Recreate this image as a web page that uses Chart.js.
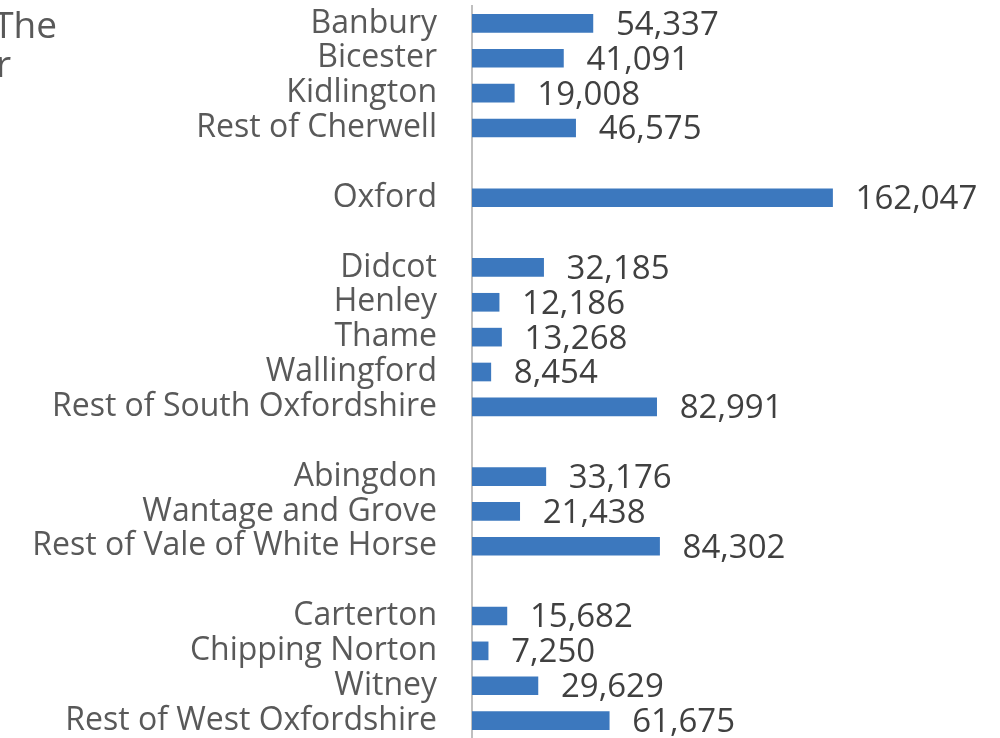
<!DOCTYPE html>
<html>
<head>
<meta charset="utf-8">
<script src="https://cdn.jsdelivr.net/npm/chart.js@4"></script>
<style>
    body { margin: 0; background: #fff; overflow: hidden; }
    #wrap { position: relative; width: 1000px; height: 738px; }
    .frag { position: absolute; font-family: 'Open Sans', sans-serif; font-size: 37px; line-height: 1; color: #595959; white-space: nowrap; }
</style>
</head>
<body>
<div id="wrap">
    <div class="frag" style="right:943px; top:5px;">The</div>
    <div class="frag" style="right:989px; top:44px;">r</div>
    <canvas id="popChart" width="1000" height="738"></canvas>
</div>
<script>
const categories = ['Banbury', 'Bicester', 'Kidlington', 'Rest of Cherwell', '', 'Oxford', '',
    'Didcot', 'Henley', 'Thame', 'Wallingford', 'Rest of South Oxfordshire', '',
    'Abingdon', 'Wantage and Grove', 'Rest of Vale of White Horse', '',
    'Carterton', 'Chipping Norton', 'Witney', 'Rest of West Oxfordshire'];
const population = [54337, 41091, 19008, 46575, null, 162047, null,
    32185, 12186, 13268, 8454, 82991, null,
    33176, 21438, 84302, null,
    15682, 7250, 29629, 61675];

// value labels drawn after each bar
const valueLabels = {
    id: 'valueLabels',
    afterDatasetsDraw(chart) {
        const ctx = chart.ctx;
        const meta = chart.getDatasetMeta(0);
        ctx.save();
        ctx.font = '33px "Open Sans"';
        ctx.fillStyle = '#404040';
        ctx.textBaseline = 'middle';
        ctx.textAlign = 'left';
        meta.data.forEach(function(bar, i) {
            const v = population[i];
            if (v == null) return;
            ctx.fillText(v.toLocaleString('en-US'), bar.x + 23, bar.y + 2);
        });
        ctx.restore();
    }
};

document.addEventListener('DOMContentLoaded', function() {
    const canvas = document.getElementById('popChart');
    new Chart(canvas, {
        type: 'bar',
        data: {
            labels: categories,
            datasets: [{
                data: population,
                backgroundColor: '#3c78be',
                barThickness: 18,
                borderSkipped: false
            }]
        },
        options: {
            indexAxis: 'y',
            responsive: false,
            animation: false,
            layout: { padding: { top: 6, right: 83, bottom: 0, left: 0 } },
            plugins: {
                legend: { display: false },
                tooltip: { enabled: false }
            },
            scales: {
                x: {
                    display: false,
                    min: 0,
                    max: 200000
                },
                y: {
                    afterFit: function(scale) {
                        scale.width = 472;
                        scale.paddingTop = 0;
                        scale.paddingBottom = 0;
                    },
                    grid: { display: false, drawTicks: false },
                    border: { display: true, color: '#bfbfbf', width: 2 },
                    ticks: {
                        padding: 35,
                        color: '#595959',
                        font: { family: 'Open Sans', size: 32 },
                        autoSkip: false
                    }
                }
            }
        },
        plugins: [valueLabels]
    });
});
</script>
</body>
</html>
